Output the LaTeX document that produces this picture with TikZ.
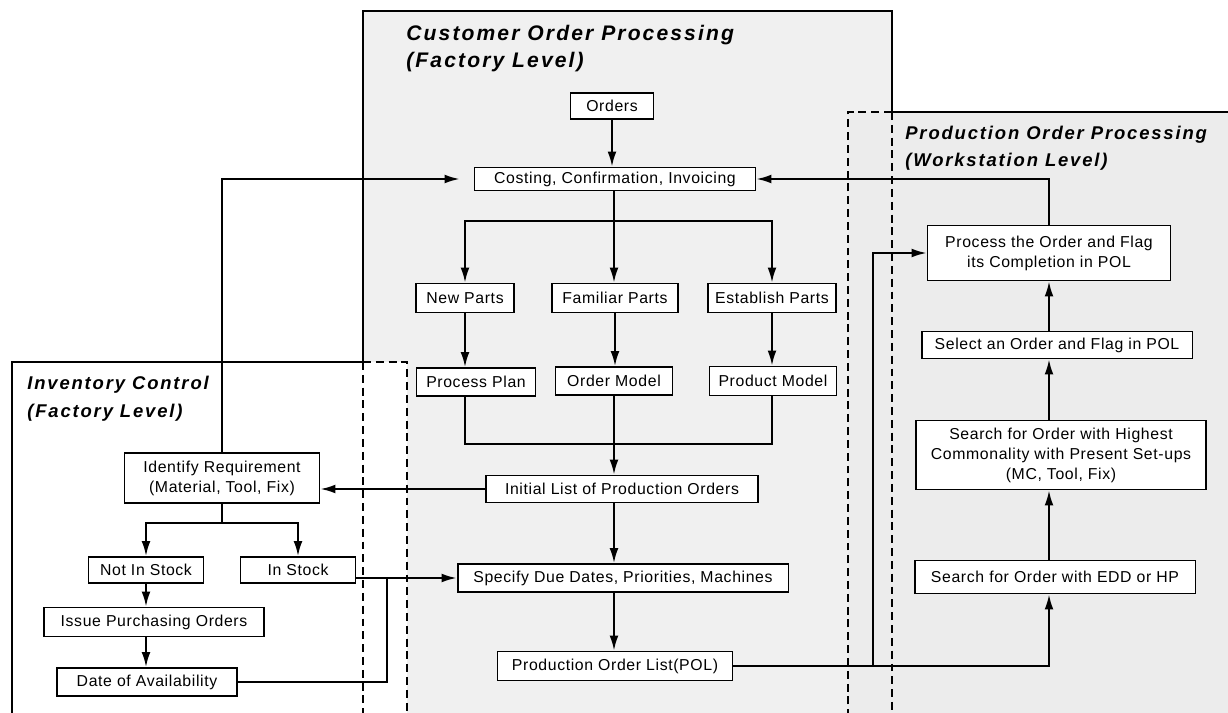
\documentclass[tikz,border=0pt]{standalone}
\usepackage{fontspec}
\setmainfont[LetterSpace=4]{Liberation Sans}
\newfontfamily\headfont[LetterSpace=10]{Liberation Sans}
\usepackage{tikz}
\usetikzlibrary{arrows.meta}
\definecolor{custgray}{gray}{0.94}
\definecolor{prodgray}{gray}{0.925}
\tikzset{
    activity/.style={
           rectangle,
           draw=black, line width=1.1pt,
           fill=white,
           inner sep=1pt,
           align=center,
           font=\fontsize{9}{11.4}\selectfont,
           },
    flow/.style={line width=1.1pt, -{Latex[length=8.5pt,width=5pt]}},
    link/.style={line width=1.1pt},
    panel/.style={draw=black, line width=0.8pt},
    hidden/.style={panel, dash pattern=on 4.5pt off 2.8pt},
    heading/.style={
           anchor=north west,
           inner sep=0pt,
           align=left,
           },
}

\begin{document}
\begin{tikzpicture}[x=0.02cm, y=-0.02cm]
    \useasboundingbox (0,0) rectangle (1228,713);
    \clip (0,0) rectangle (1228,713);

    % panels: fills first, outlines on top
    \fill[custgray] (363,11) rectangle (892,730);
    \fill[prodgray] (848,112) rectangle (1240,730);
    \fill[white] (12,362) rectangle (407,730);

    \draw[panel] (363,362) -- (363,11) -- (892,11) -- (892,112);
    \draw[hidden] (363,362) -- (363,730);
    \draw[hidden] (892,112) -- (892,730);
    \draw[hidden] (848,730) -- (848,112) -- (892,112);
    \draw[panel] (892,112) -- (1240,112);
    \draw[panel] (363,362) -- (12,362) -- (12,730);
    \draw[hidden] (363,362) -- (407,362) -- (407,730);

    % panel headings
    \node[heading, font=\headfont\bfseries\itshape\fontsize{12}{15.3}\selectfont] (custhead) at (406,25)
    {Customer Order Processing\\(Factory Level)};
    \node[heading, font=\headfont\bfseries\itshape\fontsize{10.5}{15.3}\selectfont] (prodhead) at (905,126)
    {Production Order Processing\\(Workstation Level)};
    \node[heading, font=\headfont\bfseries\itshape\fontsize{10.5}{15.8}\selectfont] (invhead) at (27,376)
    {Inventory Control\\(Factory Level)};

    % Customer order processing
    \node[activity, minimum width=1.66cm, minimum height=0.52cm] (orders) at (612,106) {Orders};
    \node[activity, minimum width=5.62cm, minimum height=0.46cm] (costing) at (615,179) {Costing, Confirmation, Invoicing};
    \node[activity, minimum width=1.96cm, minimum height=0.58cm] (newparts) at (465,298) {New Parts};
    \node[activity, minimum width=2.52cm, minimum height=0.58cm] (familiar) at (615,298) {Familiar Parts};
    \node[activity, minimum width=2.56cm, minimum height=0.58cm] (establish) at (772,298) {Establish Parts};
    \node[activity, minimum width=2.38cm, minimum height=0.56cm] (plan) at (476,382) {Process Plan};
    \node[activity, minimum width=2.34cm, minimum height=0.56cm] (ordermodel) at (614,381) {Order Model};
    \node[activity, minimum width=2.54cm, minimum height=0.58cm] (productmodel) at (773,381) {Product Model};
    \node[activity, minimum width=5.44cm, minimum height=0.54cm] (initial) at (622,489) {Initial List of Production Orders};
    \node[activity, minimum width=6.62cm, minimum height=0.56cm] (specify) at (623,578) {Specify Due Dates, Priorities, Machines};
    \node[activity, minimum width=4.70cm, minimum height=0.58cm] (pol) at (615,666) {Production Order List(POL)};

    % Inventory control
    \node[activity, minimum width=3.90cm, minimum height=1.00cm] (identify) at (222,478) {Identify Requirement\\(Material, Tool, Fix)};
    \node[activity, minimum width=2.30cm, minimum height=0.52cm] (notin) at (146,570) {Not In Stock};
    \node[activity, minimum width=2.30cm, minimum height=0.52cm] (instock) at (298,570) {In Stock};
    \node[activity, minimum width=4.40cm, minimum height=0.58cm] (issue) at (154,622) {Issue Purchasing Orders};
    \node[activity, minimum width=3.60cm, minimum height=0.56cm] (avail) at (147,682) {Date of Availability};

    % Production order processing
    \node[activity, minimum width=4.86cm, minimum height=1.10cm] (process) at (1049,253) {Process the Order and Flag\\its Completion in POL};
    \node[activity, minimum width=5.42cm, minimum height=0.54cm] (select) at (1057,345) {Select an Order and Flag in POL};
    \node[activity, minimum width=5.80cm, minimum height=1.38cm] (highest) at (1061,455) {Search for Order with Highest\\Commonality with Present Set-ups\\(MC, Tool, Fix)};
    \node[activity, minimum width=5.62cm, minimum height=0.66cm] (edd) at (1055,577) {Search for Order with EDD or HP};

    % junction points of the connectors
    \coordinate (fork) at (614,221);
    \coordinate (merge) at (614,444);
    \coordinate (tap) at (873,666);
    \coordinate (join) at (387,578);

    % customer order flow
    \draw[flow] (orders) -- (orders |- costing.north);
    \draw[link] (costing.south -| fork) -- (fork);
    \draw[flow] (fork) -| (newparts);
    \draw[flow] (fork) -- (fork |- familiar.north);
    \draw[flow] (fork) -| (establish);
    \draw[flow] (newparts) -- (newparts |- plan.north);
    \draw[flow] (familiar) -- (familiar |- ordermodel.north);
    \draw[flow] (establish) -- (establish |- productmodel.north);
    \draw[link] (plan.south -| newparts) |- (merge) -| (productmodel.south -| establish);
    \draw[flow] (ordermodel) -- (ordermodel |- initial.north);
    \draw[flow] (initial.south -| ordermodel) -- (ordermodel |- specify.north);
    \draw[flow] (specify.south -| ordermodel) -- (ordermodel |- pol.north);
    \draw[flow] (initial) -- (initial -| identify.east);
    \draw[flow, shorten >=0.28cm] (identify) |- (costing);
    \draw[flow] (process) |- (costing);

    % inventory flow
    \draw[flow] (identify.south) -- ++(0,19) -| (notin);
    \draw[flow] (identify.south) -- ++(0,19) -| (instock);
    \draw[flow] (notin) -- (notin |- issue.north);
    \draw[flow] (issue.south -| notin) -- (notin |- avail.north);
    \draw[flow] (instock.east |- specify) -- (specify);
    \draw[link] (avail) -| (join);

    % production order flow
    \draw[flow] (pol) -| (edd.south -| process);
    \draw[flow] (tap) |- (process);
    \draw[flow] (edd.north -| process) -- (process |- highest.south);
    \draw[flow] (highest.north -| process) -- (process |- select.south);
    \draw[flow] (select.north -| process) -- (process.south);
\end{tikzpicture}
\end{document}
